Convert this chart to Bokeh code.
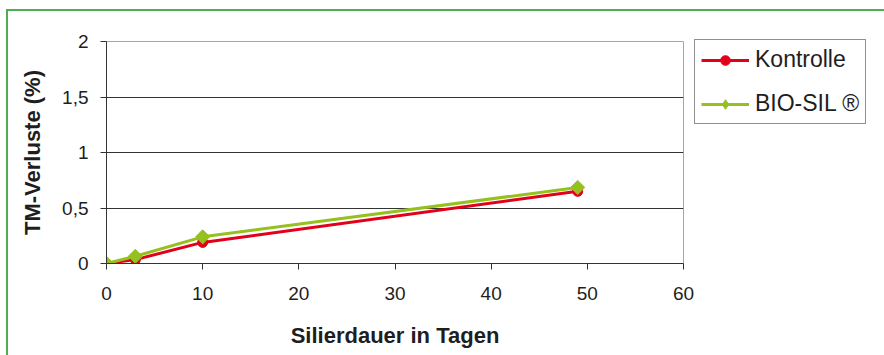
import math
from bokeh.plotting import figure
from bokeh.models import Range1d, FixedTicker, Legend, LegendItem
from bokeh.embed import file_html
from bokeh.resources import INLINE

# Silierdauer (Tage) und TM-Verluste (%)
tage = [0, 3, 10, 49]
kontrolle = [0.0, 0.035, 0.19, 0.65]
biosil = [0.0, 0.065, 0.24, 0.685]

x_ticks = [0, 10, 20, 30, 40, 50, 60]
y_ticks = [0, 0.5, 1, 1.5, 2]
y_tick_labels = ["0", "0,5", "1", "1,5", "2"]

FONT = "Liberation Sans"
RED = "#e3001b"
GREEN = "#95c11f"
TEXT = "#1e1e1e"

p = figure(
    frame_width=577, frame_height=222,
    x_range=Range1d(0, 60), y_range=Range1d(0, 2),
    output_backend="svg", toolbar_location=None,
    min_border_left=98, min_border_right=198,
    min_border_top=30, min_border_bottom=92,
    background_fill_color="white", border_fill_color="white",
)
# green frame around the whole graphic (open at the bottom)
p.styles = {
    "border-left": "2px solid #4caf50",
    "border-top": "2px solid #4caf50",
    "border-right": "2px solid #4caf50",
}
p.margin = (9, 0, 0, 6)

p.outline_line_color = "#a6a6a6"
p.outline_line_width = 1

# axes
p.xaxis.ticker = FixedTicker(ticks=x_ticks)
p.yaxis.ticker = FixedTicker(ticks=y_ticks)
p.yaxis.major_label_overrides = {t: l for t, l in zip(y_ticks, y_tick_labels)}
for ax in (p.xaxis, p.yaxis):
    ax.axis_line_color = "#333333"
    ax.major_tick_line_color = "#333333"
    ax.minor_tick_line_color = None
    ax.major_tick_in = 0
    ax.major_tick_out = 6
    ax.major_label_text_font = FONT
    ax.major_label_text_font_size = "19px"
    ax.major_label_text_color = TEXT
    ax.axis_label_text_font = FONT
    ax.axis_label_text_font_size = "22px"
    ax.axis_label_text_font_style = "bold"
    ax.axis_label_text_color = TEXT
p.xaxis.major_label_standoff = 17
p.yaxis.major_label_standoff = 12
p.xaxis.axis_label = "Silierdauer in Tagen"
p.yaxis.axis_label = "TM-Verluste (%)"
p.xaxis.axis_label_standoff = 20
p.yaxis.axis_label_standoff = 14

# grid
p.xgrid.grid_line_color = None
p.ygrid.ticker = FixedTicker(ticks=[0.5, 1, 1.5])
p.ygrid.grid_line_color = "#333333"
p.ygrid.grid_line_width = 1

# series
r_line = p.line(tage, kontrolle, line_color=RED, line_width=3)
r_pts = p.scatter(tage, kontrolle, marker="circle", size=10,
                  fill_color=RED, line_color=RED)
g_line = p.line(tage, biosil, line_color=GREEN, line_width=3)
g_pts = p.scatter(tage, biosil, marker="square", size=10, angle=math.pi / 4,
                  fill_color=GREEN, line_color=GREEN)
# legend swatch for the BIO-SIL markers (diamond shape, off-canvas point)
g_key = p.scatter([math.nan], [math.nan], marker="diamond", size=19,
                  fill_color=GREEN, line_color=GREEN)

legend = Legend(
    items=[
        LegendItem(label="Kontrolle", renderers=[r_line, r_pts]),
        LegendItem(label="BIO-SIL \u00ae", renderers=[g_line, g_key]),
    ],
    location=(11, 139),
    margin=0,
    padding=6,
    spacing=17,
    glyph_width=48,
    glyph_height=24,
    label_height=24,
    label_standoff=6,
    label_text_font=FONT,
    label_text_font_size="23px",
    label_text_color=TEXT,
    border_line_color="#222222",
    border_line_width=1,
    background_fill_alpha=1,
)
p.add_layout(legend, "right")

open("out.html", "w").write(file_html(p, INLINE))
